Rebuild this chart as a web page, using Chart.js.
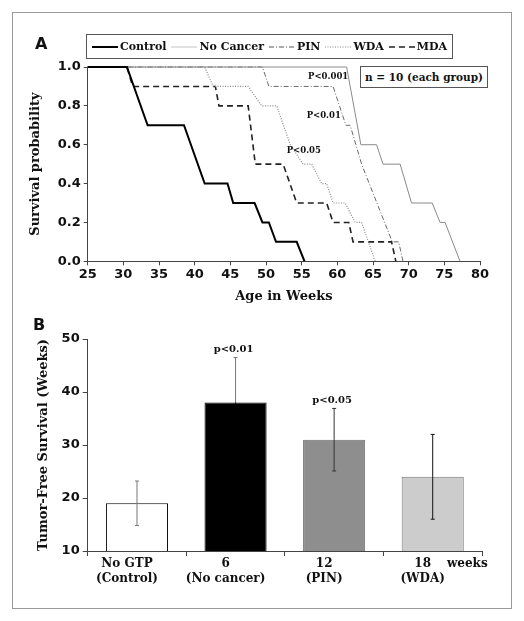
<!DOCTYPE html>
<html>
<head>
<meta charset="utf-8">
<script src="https://cdn.jsdelivr.net/npm/chart.js@4.4.1/dist/chart.umd.min.js"></script>
<style>
  html, body { margin: 0; padding: 0; background: #fff; }
  body { width: 524px; height: 621px; position: relative; overflow: hidden; }
  #frame { position: absolute; left: 12px; top: 12px; width: 498px; height: 595px; border: 1px solid #999; }
  canvas { position: absolute; left: 0; }
  #chartA { top: 0; }
  #chartB { top: 310px; }
  .panel { position: absolute; font: bold 16px "DejaVu Sans", sans-serif; color: #111; }
  #legend { position: absolute; left: 86px; top: 34px; width: 355px; height: 23px; padding: 0 5px; border: 1px solid #555;
            display: flex; align-items: center; justify-content: space-between; font: bold 11px "DejaVu Serif", serif; color: #111; }
  #legend span { display: flex; align-items: center; white-space: nowrap; }
  #legend svg { margin-right: 2px; }
  #nbox { position: absolute; left: 360px; top: 66px; width: 126px; height: 20px; border: 1px solid #555; background: #fff;
          font: bold 10.5px "DejaVu Serif", serif; color: #111; text-align: center; line-height: 20px; }
  #weeks { position: absolute; left: 447px; top: 556px; font: bold 12px "DejaVu Serif", serif; color: #111; }
</style>
</head>
<body>
<div id="frame"></div>
<canvas id="chartA" width="524" height="310"></canvas>
<canvas id="chartB" width="524" height="311"></canvas>
<div class="panel" style="left:35px;top:34px">A</div>
<div class="panel" style="left:33px;top:315px">B</div>
<div id="legend"></div>
<div id="nbox">n = 10 (each group)</div>
<div id="weeks">weeks</div>
<script>
// panel A: survival curves (age in weeks vs survival probability)
const groupNames = ["Control", "No Cancer", "PIN", "WDA", "MDA"];
const controlWeeks = [25, 30.5, 33.4, 38.5, 41.4, 44.6, 45.4, 48.4, 49.5, 50.4, 51.4, 54.3, 55.4];
const controlSurvival = [1, 1, 0.7, 0.7, 0.4, 0.4, 0.3, 0.3, 0.2, 0.2, 0.1, 0.1, 0];
const noCancerWeeks = [25, 61.3, 63.3, 65.5, 66.4, 68.8, 70.4, 73.3, 74.4, 75.1, 77.2];
const noCancerSurvival = [1, 1, 0.6, 0.6, 0.5, 0.5, 0.3, 0.3, 0.2, 0.2, 0];
const pinWeeks = [25, 49.5, 50.4, 59.4, 61.2, 61.8, 63.4, 67.7, 68.6, 69.2];
const pinSurvival = [1, 1, 0.9, 0.9, 0.7, 0.7, 0.5, 0.1, 0.1, 0];
const wdaWeeks = [25, 41.4, 42.6, 47.5, 49.4, 51.5, 53.4, 55.2, 56.4, 57.8, 58.5, 59.4, 61.1, 62.5, 63.4, 65.3];
const wdaSurvival = [1, 1, 0.9, 0.9, 0.8, 0.8, 0.6, 0.5, 0.5, 0.4, 0.4, 0.3, 0.3, 0.2, 0.2, 0];
const mdaWeeks = [25, 30.5, 31.3, 42.9, 43.4, 47.5, 48.5, 52.4, 54.3, 58.5, 59.4, 61.6, 62.2, 67.6, 68.2];
const mdaSurvival = [1, 1, 0.9, 0.9, 0.8, 0.8, 0.5, 0.5, 0.3, 0.3, 0.2, 0.2, 0.1, 0.1, 0];
const pValueTexts = ["P<0.001", "P<0.01", "P<0.05"];
const pValueWeeks = [55.9, 55.7, 52.9];
const pValueSurvival = [0.95, 0.75, 0.57];

// panel B: tumor-free survival bars
const barLabels = [["No GTP", "(Control)"], ["6", "(No cancer)"], ["12", "(PIN)"], ["18", "(WDA)"]];
const tumorFree = [19, 38, 31, 24];
const tumorFreeErr = [4.2, 8.5, 5.9, 8];
const barPLabels = ["", "p<0.01", "p<0.05", ""];

const lineStyles = [
  { color: "#000", width: 2, dash: [] },
  { color: "#8a8a8a", width: 1, dash: [] },
  { color: "#6a6a6a", width: 1, dash: [5, 2, 1, 2] },
  { color: "#8a8a8a", width: 1.2, dash: [1, 1.5] },
  { color: "#222", width: 1.6, dash: [6, 4] }
];
const legendStyles = [
  { color: "#000", width: 2, dash: "" },
  { color: "#c4c4c4", width: 1, dash: "" },
  { color: "#555", width: 1, dash: "5 2 1 2" },
  { color: "#888", width: 1, dash: "1 1.5" },
  { color: "#222", width: 1.5, dash: "6 4" }
];

const serifBold = (size) => ({ family: "'DejaVu Serif', serif", size, weight: "bold" });
const sansBold = (size) => ({ family: "'DejaVu Sans', sans-serif", size, weight: "bold" });
const axisColor = "#444";

const series = [
  [controlWeeks, controlSurvival],
  [noCancerWeeks, noCancerSurvival],
  [pinWeeks, pinSurvival],
  [wdaWeeks, wdaSurvival],
  [mdaWeeks, mdaSurvival]
];

document.querySelector("#legend").innerHTML = groupNames.map((name, i) => {
  const s = legendStyles[i];
  return `<span><svg width="26" height="6"><line x1="0" y1="3" x2="26" y2="3" stroke="${s.color}" stroke-width="${s.width}" stroke-dasharray="${s.dash}"/></svg>${name}</span>`;
}).join("");

const survivalNotes = {
  id: "survivalNotes",
  afterDatasetsDraw(chart) {
    const { ctx, scales: { x, y } } = chart;
    ctx.save();
    ctx.font = "bold 8.5px 'DejaVu Serif', serif";
    ctx.fillStyle = "#111";
    ctx.textAlign = "left";
    ctx.textBaseline = "middle";
    pValueTexts.forEach((text, i) => {
      ctx.fillText(text, x.getPixelForValue(pValueWeeks[i]), y.getPixelForValue(pValueSurvival[i]));
    });
    ctx.restore();
  }
};

new Chart(document.querySelector("#chartA"), {
  type: "line",
  data: {
    datasets: series.map(([weeks, surv], i) => ({
      label: groupNames[i],
      data: weeks.map((w, k) => ({ x: w, y: surv[k] })),
      borderColor: lineStyles[i].color,
      borderWidth: lineStyles[i].width,
      borderDash: lineStyles[i].dash,
      pointRadius: 0,
      tension: 0,
      fill: false,
      clip: false
    }))
  },
  options: {
    responsive: false,
    animation: false,
    devicePixelRatio: 1,
    layout: { padding: { top: 67, right: 44, bottom: 2.7, left: 0 } },
    plugins: { legend: { display: false }, tooltip: { enabled: false } },
    scales: {
      x: {
        type: "linear", min: 25, max: 80,
        afterFit: (s) => { s.height = 46; },
        border: { color: axisColor },
        grid: { drawOnChartArea: false, color: axisColor, tickLength: 4 },
        ticks: { stepSize: 5, font: sansBold(13), color: "#111", padding: 2, maxRotation: 0 },
        title: { display: true, text: "Age in Weeks", font: serifBold(13), color: "#111", padding: { top: 0, bottom: 2.5 } }
      },
      y: {
        min: 0, max: 1,
        afterFit: (s) => { s.width = 87.7; },
        border: { color: axisColor },
        grid: { drawOnChartArea: false, color: axisColor, tickLength: 4 },
        ticks: { stepSize: 0.2, font: sansBold(13), color: "#111", padding: 3, callback: (v) => v.toFixed(1) },
        title: { display: true, text: "Survival probability", font: serifBold(13), color: "#111", padding: { top: 28, bottom: 0 } }
      }
    }
  },
  plugins: [survivalNotes]
});

const errorBars = {
  id: "errorBars",
  afterDatasetsDraw(chart) {
    const { ctx, scales: { y } } = chart;
    const bars = chart.getDatasetMeta(0).data;
    const upperColors = ["#777", "#777", "#333", "#111"];
    const lowerColors = ["#777", "#000", "#333", "#111"];
    ctx.save();
    ctx.lineWidth = 1;
    bars.forEach((bar, i) => {
      const top = y.getPixelForValue(tumorFree[i] + tumorFreeErr[i]);
      const bottom = y.getPixelForValue(tumorFree[i] - tumorFreeErr[i]);
      ctx.strokeStyle = upperColors[i];
      ctx.beginPath();
      ctx.moveTo(bar.x, top); ctx.lineTo(bar.x, bar.y);
      ctx.moveTo(bar.x - 2, top); ctx.lineTo(bar.x + 2, top);
      ctx.stroke();
      ctx.strokeStyle = lowerColors[i];
      ctx.beginPath();
      ctx.moveTo(bar.x, bar.y); ctx.lineTo(bar.x, bottom);
      ctx.moveTo(bar.x - 2, bottom); ctx.lineTo(bar.x + 2, bottom);
      ctx.stroke();
      if (barPLabels[i]) {
        ctx.font = "bold 10px 'DejaVu Serif', serif";
        ctx.fillStyle = "#111";
        ctx.textAlign = "center";
        ctx.textBaseline = "bottom";
        ctx.fillText(barPLabels[i], bar.x - 2, top - 3);
      }
    });
    ctx.restore();
  }
};

new Chart(document.querySelector("#chartB"), {
  type: "bar",
  data: {
    labels: barLabels,
    datasets: [{
      data: tumorFree,
      backgroundColor: ["#ffffff", "#000000", "#8e8e8e", "#cccccc"],
      borderColor: ["#000", "#000", "#6e6e6e", "#777"],
      borderWidth: 1,
      categoryPercentage: 1,
      barPercentage: 0.63
    }]
  },
  options: {
    responsive: false,
    animation: false,
    devicePixelRatio: 1,
    layout: { padding: { top: 29, right: 42, bottom: 30, left: 0 } },
    plugins: { legend: { display: false }, tooltip: { enabled: false } },
    scales: {
      x: {
        afterFit: (s) => { s.height = 40; },
        border: { color: axisColor },
        grid: { drawOnChartArea: false, color: axisColor, tickLength: 5, offset: true },
        ticks: { font: serifBold(12), color: "#111", padding: 1, maxRotation: 0, labelOffset: -10 }
      },
      y: {
        min: 10, max: 50,
        afterFit: (s) => { s.width = 87.7; },
        border: { color: axisColor },
        grid: { drawOnChartArea: false, color: axisColor, tickLength: 5 },
        ticks: { stepSize: 10, font: sansBold(13), color: "#111", padding: 3 },
        title: { display: true, text: "Tumor-Free Survival (Weeks)", font: serifBold(13), color: "#111", padding: { top: 35.5, bottom: 0 } }
      }
    }
  },
  plugins: [errorBars]
});
</script>
</body>
</html>
